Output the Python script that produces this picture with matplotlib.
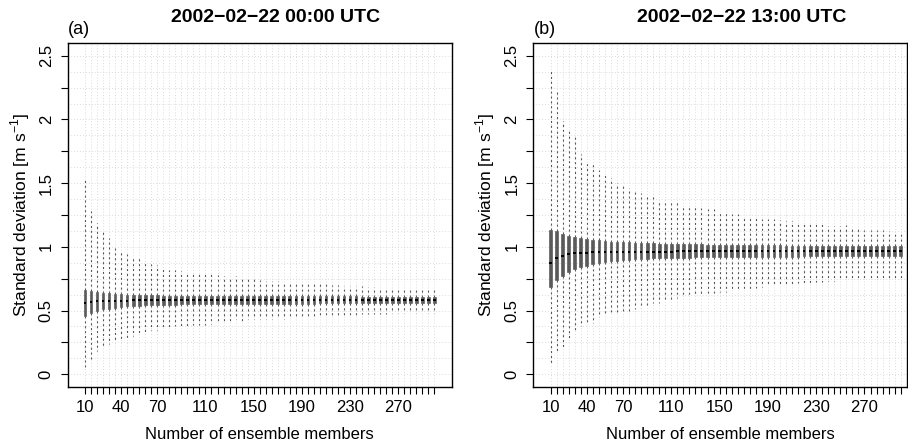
#!/usr/bin/env python3
# -*- coding: utf-8 -*-

"""
Ensemble spread boxplots: standard deviation vs number of ensemble members,
two panels (00 UTC and 13 UTC).
"""

import matplotlib
matplotlib.use('Agg')
import matplotlib.pyplot as plt

plt.rcParams['font.family'] = ['Liberation Sans', 'DejaVu Sans']

# 集合成员数 (10, 15, ..., 300)
members = list(range(10, 305, 5))
label_members = [10, 40, 70, 110, 150, 190, 230, 270]

# panel (a) 2002-02-22 00:00 UTC
a_whishi = [1.54, 1.28, 1.19, 1.115, 1.07, 1.00, 0.96, 0.945, 0.925, 0.915,
            0.88, 0.865, 0.855, 0.83, 0.82, 0.815, 0.81, 0.80, 0.795, 0.785,
            0.785, 0.785, 0.78, 0.77, 0.755, 0.77, 0.75, 0.745, 0.745, 0.74,
            0.735, 0.735, 0.73, 0.725, 0.72, 0.72, 0.715, 0.713, 0.71, 0.71,
            0.705, 0.70, 0.70, 0.695, 0.69, 0.69, 0.69, 0.685, 0.685, 0.68,
            0.68, 0.678, 0.677, 0.675, 0.673, 0.672, 0.67, 0.668, 0.666]
a_q3 = [0.66, 0.653, 0.648, 0.64, 0.635, 0.632, 0.627, 0.625, 0.623, 0.622,
        0.62, 0.62, 0.619, 0.618, 0.618, 0.617, 0.617, 0.616, 0.616, 0.615,
        0.615, 0.615, 0.615, 0.614, 0.614, 0.614, 0.614, 0.613, 0.613, 0.613,
        0.613, 0.613, 0.612, 0.612, 0.612, 0.612, 0.612, 0.612, 0.611, 0.611,
        0.611, 0.611, 0.611, 0.611, 0.611, 0.611, 0.61, 0.61, 0.61, 0.61,
        0.61, 0.61, 0.61, 0.61, 0.61, 0.61, 0.61, 0.61, 0.61]
a_med = [0.56, 0.567, 0.572, 0.574, 0.576, 0.577, 0.578, 0.578, 0.579, 0.579,
         0.58, 0.58, 0.58, 0.58, 0.581, 0.581, 0.581, 0.581, 0.582, 0.582,
         0.582, 0.582, 0.582, 0.582, 0.583, 0.583, 0.583, 0.583, 0.583, 0.583,
         0.583, 0.583, 0.584, 0.584, 0.584, 0.584, 0.584, 0.584, 0.584, 0.584,
         0.584, 0.584, 0.584, 0.584, 0.585, 0.585, 0.585, 0.585, 0.585, 0.585,
         0.585, 0.585, 0.585, 0.585, 0.585, 0.585, 0.585, 0.585, 0.585]
a_q1 = [0.457, 0.478, 0.50, 0.509, 0.514, 0.522, 0.528, 0.532, 0.535, 0.538,
        0.54, 0.542, 0.544, 0.545, 0.546, 0.547, 0.548, 0.548, 0.549, 0.549,
        0.55, 0.55, 0.551, 0.551, 0.552, 0.552, 0.552, 0.553, 0.553, 0.553,
        0.554, 0.554, 0.554, 0.554, 0.555, 0.555, 0.555, 0.555, 0.555, 0.556,
        0.556, 0.556, 0.556, 0.556, 0.557, 0.557, 0.557, 0.557, 0.557, 0.557,
        0.557, 0.558, 0.558, 0.558, 0.558, 0.558, 0.558, 0.558, 0.558]
a_whislo = [0.05, 0.12, 0.18, 0.215, 0.235, 0.265, 0.27, 0.27, 0.30, 0.305,
            0.335, 0.345, 0.35, 0.365, 0.365, 0.375, 0.38, 0.38, 0.385, 0.385,
            0.39, 0.395, 0.405, 0.405, 0.415, 0.43, 0.42, 0.43, 0.43, 0.435,
            0.435, 0.435, 0.44, 0.435, 0.44, 0.445, 0.445, 0.45, 0.45, 0.455,
            0.455, 0.46, 0.46, 0.46, 0.465, 0.465, 0.47, 0.47, 0.47, 0.475,
            0.475, 0.48, 0.48, 0.48, 0.485, 0.48, 0.485, 0.48, 0.48]

# panel (b) 2002-02-22 13:00 UTC
b_whishi = [2.377, 2.215, 1.99, 1.907, 1.862, 1.73, 1.659, 1.656, 1.607, 1.578,
            1.544, 1.505, 1.478, 1.46, 1.437, 1.42, 1.416, 1.416, 1.371, 1.371,
            1.364, 1.35, 1.332, 1.324, 1.314, 1.306, 1.296, 1.298, 1.272, 1.267,
            1.26, 1.254, 1.246, 1.241, 1.228, 1.22, 1.215, 1.22, 1.21, 1.202,
            1.202, 1.194, 1.189, 1.183, 1.176, 1.176, 1.163, 1.163, 1.163, 1.168,
            1.142, 1.142, 1.136, 1.136, 1.136, 1.131, 1.123, 1.115, 1.11]
b_q3 = [1.136, 1.123, 1.103, 1.087, 1.075, 1.067, 1.062, 1.057, 1.053, 1.047,
        1.042, 1.04, 1.037, 1.035, 1.033, 1.031, 1.03, 1.028, 1.026, 1.025,
        1.024, 1.023, 1.022, 1.021, 1.02, 1.019, 1.018, 1.017, 1.017, 1.016,
        1.015, 1.015, 1.014, 1.013, 1.013, 1.012, 1.012, 1.011, 1.011, 1.01,
        1.01, 1.01, 1.009, 1.009, 1.009, 1.008, 1.008, 1.008, 1.007, 1.007,
        1.007, 1.006, 1.006, 1.006, 1.006, 1.005, 1.005, 1.005, 1.005]
b_med = [0.875, 0.913, 0.932, 0.943, 0.95, 0.953, 0.955, 0.957, 0.958, 0.959,
         0.96, 0.96, 0.961, 0.961, 0.962, 0.962, 0.962, 0.963, 0.963, 0.963,
         0.963, 0.964, 0.964, 0.964, 0.964, 0.964, 0.965, 0.965, 0.965, 0.965,
         0.965, 0.965, 0.965, 0.966, 0.966, 0.966, 0.966, 0.966, 0.966, 0.966,
         0.966, 0.966, 0.966, 0.967, 0.967, 0.967, 0.967, 0.967, 0.967, 0.967,
         0.967, 0.967, 0.967, 0.967, 0.967, 0.967, 0.967, 0.967, 0.967]
b_q1 = [0.683, 0.738, 0.773, 0.803, 0.825, 0.84, 0.852, 0.862, 0.872, 0.878,
        0.888, 0.892, 0.896, 0.9, 0.903, 0.906, 0.908, 0.91, 0.911, 0.912,
        0.913, 0.914, 0.915, 0.916, 0.917, 0.917, 0.918, 0.919, 0.919, 0.92,
        0.92, 0.921, 0.921, 0.922, 0.922, 0.922, 0.923, 0.923, 0.923, 0.924,
        0.924, 0.924, 0.925, 0.925, 0.925, 0.925, 0.926, 0.926, 0.926, 0.926,
        0.927, 0.927, 0.927, 0.927, 0.927, 0.928, 0.928, 0.928, 0.928]
b_whislo = [0.074, 0.168, 0.209, 0.287, 0.335, 0.38, 0.398, 0.405, 0.448, 0.463,
            0.47, 0.477, 0.483, 0.496, 0.509, 0.522, 0.538, 0.556, 0.562, 0.575,
            0.585, 0.601, 0.609, 0.617, 0.619, 0.627, 0.635, 0.64, 0.645, 0.645,
            0.653, 0.666, 0.671, 0.671, 0.679, 0.687, 0.692, 0.697, 0.697, 0.705,
            0.705, 0.713, 0.713, 0.718, 0.724, 0.724, 0.731, 0.731, 0.737, 0.737,
            0.739, 0.745, 0.745, 0.75, 0.75, 0.752, 0.755, 0.758, 0.758]

titles = ['2002\u221202\u221222 00:00 UTC', '2002\u221202\u221222 13:00 UTC']
panel_tags = ['(a)', '(b)']


def build_stats(whislo, q1, med, q3, whishi):
    """组装 bxp 需要的统计量列表"""
    return [dict(whislo=lo, q1=a, med=m, q3=b, whishi=hi)
            for lo, a, m, b, hi in zip(whislo, q1, med, q3, whishi)]


def draw_panel(ax, stats, xlim):
    positions = list(range(1, len(members) + 1))

    # 背景网格
    for p in positions:
        ax.axvline(p, color='#d0d0d0', lw=0.6, ls=(0, (1, 2.5)), zorder=0)
    k = 0
    while k * 0.125 <= 2.5:
        ax.axhline(k * 0.125, color='#d0d0d0', lw=0.6, ls=(0, (1, 2.5)), zorder=0)
        k += 1

    ax.bxp(stats, positions=positions, widths=0.45, showfliers=False,
           showcaps=False, patch_artist=True,
           boxprops=dict(facecolor='#5a5a5a', edgecolor='#4a4a4a', lw=0.4),
           medianprops=dict(color='black', lw=1.4),
           whiskerprops=dict(color='#555555', lw=0.8, ls=(0, (1.8, 2.6))))

    ax.set_xlim(*xlim)
    ax.set_ylim(-0.1, 2.6)
    ax.set_xticks(positions)
    ax.set_xticklabels([str(m) if m in label_members else '' for m in members])
    ax.set_yticks([i * 0.25 for i in range(11)])
    ax.set_yticklabels(['0' if i == 0 else ('%g' % (i * 0.25) if i % 2 == 0 else '')
                        for i in range(11)])
    ax.tick_params(axis='both', direction='out', length=5, width=0.8,
                   labelsize=12, colors='black')
    ax.tick_params(axis='x', pad=4)
    ax.tick_params(axis='y', pad=5, labelrotation=90)
    for lbl in ax.get_yticklabels():
        lbl.set_va('center')
    for s in ax.spines.values():
        s.set_linewidth(1.0)
        s.set_color('black')
    ax.set_xlabel('Number of ensemble members', fontsize=12, labelpad=9)
    ax.set_ylabel(r'Standard deviation [m s$^{\mathregular{-1}}$]', fontsize=12.6, labelpad=5)


def main():
    fig = plt.figure(figsize=(9.08, 4.43), dpi=100)
    ax_a = fig.add_axes([67.7 / 908, 1 - 387 / 443, (451.7 - 67.7) / 908, 344 / 443])
    ax_b = fig.add_axes([533.3 / 908, 1 - 387 / 443, (907 - 533.3) / 908, 344 / 443])

    draw_panel(ax_a, build_stats(a_whislo, a_q1, a_med, a_q3, a_whishi), (-1.86, 61.86))
    draw_panel(ax_b, build_stats(b_whislo, b_q1, b_med, b_q3, b_whishi), (-1.86, 60.04))

    # 标题和面板编号
    fig.text(276 / 908, 1 - 17 / 443, titles[0], ha='center', va='center',
             fontsize=14, fontweight='bold')
    fig.text(742 / 908, 1 - 17 / 443, titles[1], ha='center', va='center',
             fontsize=14, fontweight='bold')
    fig.text(68 / 908, 1 - 30 / 443, panel_tags[0], ha='left', va='center', fontsize=13)
    fig.text(534 / 908, 1 - 30 / 443, panel_tags[1], ha='left', va='center', fontsize=13)

    fig.savefig('out.png', dpi=100)


if __name__ == "__main__":
    main()
